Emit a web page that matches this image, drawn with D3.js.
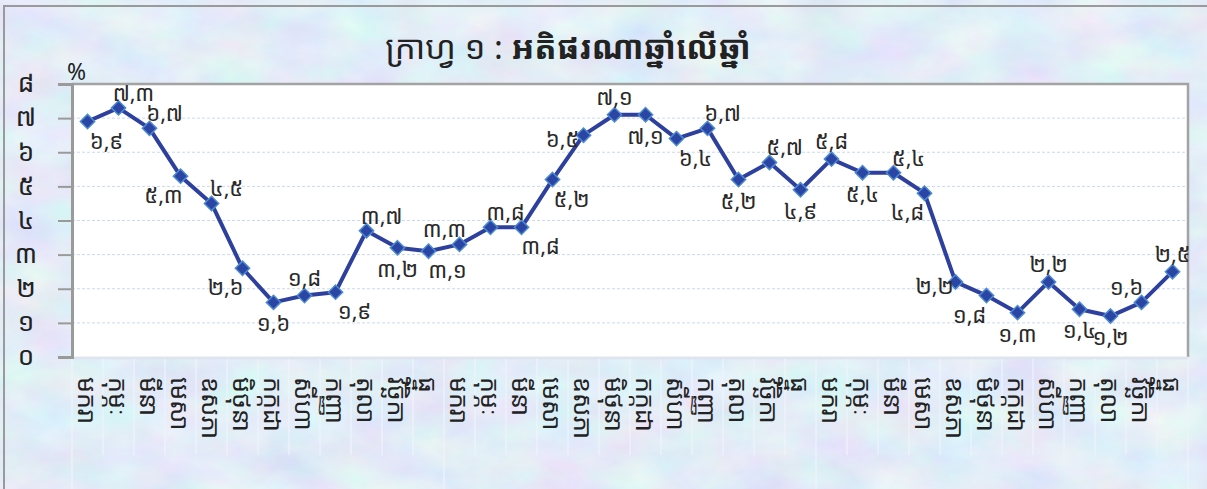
<!DOCTYPE html>
<html>
<head>
<meta charset="utf-8">
<script src="https://cdn.jsdelivr.net/npm/d3@7"></script>
<style>
  body { margin: 0; background: #fff; }
  svg { display: block; }
  text { font-family: "Khmer OS", "Khmer OS System", "Noto Sans Khmer", "Noto Serif Khmer", "Noto Sans", sans-serif; fill: #222; }
</style>
</head>
<body>
<div id="chart"></div>
<script>
// month names, repeated for three years
var months = ["មករា", "កុម្ភៈ", "មីនា", "មេសា", "ឧសភា", "មិថុនា",
  "កក្កដា", "សីហា", "កញ្ញា", "តុលា", "វិច្ឆិកា", "ធ្នូ"];
var years = [1, 2, 3];

// year-on-year inflation (%)
var inflation = [6.9, 7.3, 6.7, 5.3, 4.5, 2.6, 1.6, 1.8, 1.9, 3.7, 3.2, 3.1,
  3.3, 3.8, 3.8, 5.2, 6.5, 7.1, 7.1, 6.4, 6.7, 5.2, 5.7, 4.9,
  5.8, 5.4, 5.4, 4.8, 2.2, 1.8, 1.3, 2.2, 1.4, 1.2, 1.6, 2.5];

// where each data label sits relative to its point
var labelSide = ["br", "ar", "ar", "bl", "ar", "bl", "b", "a", "br", "ar", "b", "br",
  "al", "ar", "br", "br", "l", "a", "b", "br", "ar", "b", "ar", "b",
  "a", "b", "ar", "bl", "l", "bl", "b", "a", "b", "b", "al", "a"];

var yTicks = [0, 1, 2, 3, 4, 5, 6, 7, 8];

var svgWidth = 1207;
var svgHeight = 489;

var margin = { top: 84, right: 19, bottom: 132, left: 72 };
var width = svgWidth - margin.left - margin.right;
var height = svgHeight - margin.top - margin.bottom;

var khmerDigits = "០១២៣៤៥៦៧៨៩";
function toKhmer(v) {
  return String(v).replace(/[0-9]/g, function (c) { return khmerDigits[+c]; }).replace(".", ",");
}

var categories = [];
years.forEach(function (y) {
  months.forEach(function (m) { categories.push(y + "-" + m); });
});
var data = inflation.map(function (v, i) {
  return { key: categories[i], month: months[i % 12], value: v, side: labelSide[i] };
});

var svg = d3.select("#chart")
  .append("svg")
  .attr("width", svgWidth)
  .attr("height", svgHeight);

// textured pastel background
var defs = svg.append("defs");
var filt = defs.append("filter")
  .attr("id", "paper")
  .attr("x", 0).attr("y", 0).attr("width", "100%").attr("height", "100%");
filt.append("feTurbulence")
  .attr("type", "fractalNoise")
  .attr("baseFrequency", "0.015 0.025")
  .attr("numOctaves", 4)
  .attr("seed", 7);
filt.append("feColorMatrix")
  .attr("type", "matrix")
  .attr("values",
    "0.30 0 0 0 0.61 " +
    "0 0.28 -0.05 0 0.73 " +
    "0 0 0.14 0 0.86 " +
    "0 0 0 0 1");

svg.append("rect")
  .attr("width", svgWidth)
  .attr("height", svgHeight)
  .attr("filter", "url(#paper)");

// outer frame
svg.append("rect")
  .attr("x", 4).attr("y", 6)
  .attr("width", svgWidth + 10).attr("height", svgHeight + 10)
  .attr("fill", "none")
  .attr("stroke", "#9a9a9a")
  .attr("stroke-width", 2);

// title
var title = svg.append("text")
  .attr("x", 568)
  .attr("y", 59)
  .attr("text-anchor", "middle")
  .style("font-size", "33px");
title.append("tspan").text("ក្រាហ្វ ១ : ");
title.append("tspan").style("font-weight", "bold").text("អតិផរណាឆ្នាំលើឆ្នាំ");

var chartGroup = svg.append("g")
  .attr("transform", `translate(${margin.left}, ${margin.top})`);

var xScale = d3.scaleBand()
  .domain(categories)
  .range([0, width]);

var yScale = d3.scaleLinear()
  .domain([0, 8])
  .range([height, 0]);

// plot area
chartGroup.append("rect")
  .attr("width", width)
  .attr("height", height)
  .attr("fill", "#fff");

// gridlines
chartGroup.append("g")
  .selectAll("line")
  .data(yTicks.slice(1, -1))
  .enter()
  .append("line")
  .attr("x1", 0).attr("x2", width)
  .attr("y1", d => yScale(d)).attr("y2", d => yScale(d))
  .attr("stroke", "#c9d9f2")
  .attr("stroke-dasharray", "3,2")
  .attr("stroke-width", 1);

// plot border: top and right gray, bottom light
chartGroup.append("path")
  .attr("d", `M0,0 H${width} V${height}`)
  .attr("fill", "none")
  .attr("stroke", "#a3a3a3")
  .attr("stroke-width", 2.5);
chartGroup.append("line")
  .attr("x1", 0).attr("x2", width)
  .attr("y1", height + 1).attr("y2", height + 1)
  .attr("stroke", "#dfe5ef")
  .attr("stroke-width", 3);

// y axis
var leftAxis = d3.axisLeft(yScale)
  .tickValues(yTicks)
  .tickSize(14)
  .tickPadding(22)
  .tickFormat(toKhmer);

var yAxis = chartGroup.append("g")
  .classed("y-axis", true)
  .call(leftAxis);
yAxis.select(".domain").attr("stroke", "#9a9a9a").attr("stroke-width", 3);
yAxis.selectAll(".tick line").attr("stroke", "#9a9a9a").attr("stroke-width", 2);
yAxis.selectAll(".tick text")
  .attr("text-anchor", "middle")
  .attr("x", -46)
  .attr("dy", "0.3em")
  .style("font-size", "26px")
  .style("fill", "#222");

chartGroup.append("text")
  .attr("x", -5)
  .attr("y", -4)
  .style("font-size", "23px")
  .text("%");

// category separators below the plot
var boundaries = d3.range(categories.length + 1);
chartGroup.append("g")
  .selectAll("line")
  .data(boundaries)
  .enter()
  .append("line")
  .attr("x1", d => d * xScale.bandwidth())
  .attr("x2", d => d * xScale.bandwidth())
  .attr("y1", height + 2)
  .attr("y2", d => d % 12 === 0 ? svgHeight : height + 98)
  .attr("stroke", "#eef2fa")
  .attr("stroke-opacity", 0.85)
  .attr("stroke-width", 1.5);

// month labels, rotated
chartGroup.append("g")
  .selectAll("text")
  .data(data)
  .enter()
  .append("text")
  .attr("transform", d => `translate(${xScale(d.key) + xScale.bandwidth() / 2}, ${height + 20}) rotate(90)`)
  .attr("dominant-baseline", "central")
  .attr("text-anchor", "start")
  .style("font-size", "25px")
  .text(d => d.month);

// line
var line = d3.line()
  .x(d => xScale(d.key) + xScale.bandwidth() / 2)
  .y(d => yScale(d.value));

chartGroup.append("path")
  .datum(data)
  .attr("d", line)
  .attr("fill", "none")
  .attr("stroke", "#2d409e")
  .attr("stroke-width", 4)
  .attr("stroke-linejoin", "round");

// diamond markers
var diamond = d3.symbol().type(d3.symbolDiamond2).size(130);
chartGroup.append("g")
  .selectAll("path")
  .data(data)
  .enter()
  .append("path")
  .attr("d", diamond)
  .attr("transform", d => `translate(${xScale(d.key) + xScale.bandwidth() / 2}, ${yScale(d.value)})`)
  .attr("fill", "#2a45a3")
  .attr("stroke", "#4d8ad0")
  .attr("stroke-width", 1.5);

// data labels
var offsets = {
  a: [0, -19], b: [0, 20], ar: [15, -16], al: [-15, -16],
  br: [19, 18], bl: [-17, 18], l: [-21, 3], r: [21, 3]
};
chartGroup.append("g")
  .selectAll("text")
  .data(data)
  .enter()
  .append("text")
  .attr("x", d => xScale(d.key) + xScale.bandwidth() / 2 + offsets[d.side][0])
  .attr("y", d => yScale(d.value) + offsets[d.side][1])
  .attr("text-anchor", "middle")
  .attr("dominant-baseline", "central")
  .style("font-size", "22px")
  .style("fill", "#2a2a2a")
  .text(d => toKhmer(d.value));
</script>
</body>
</html>
